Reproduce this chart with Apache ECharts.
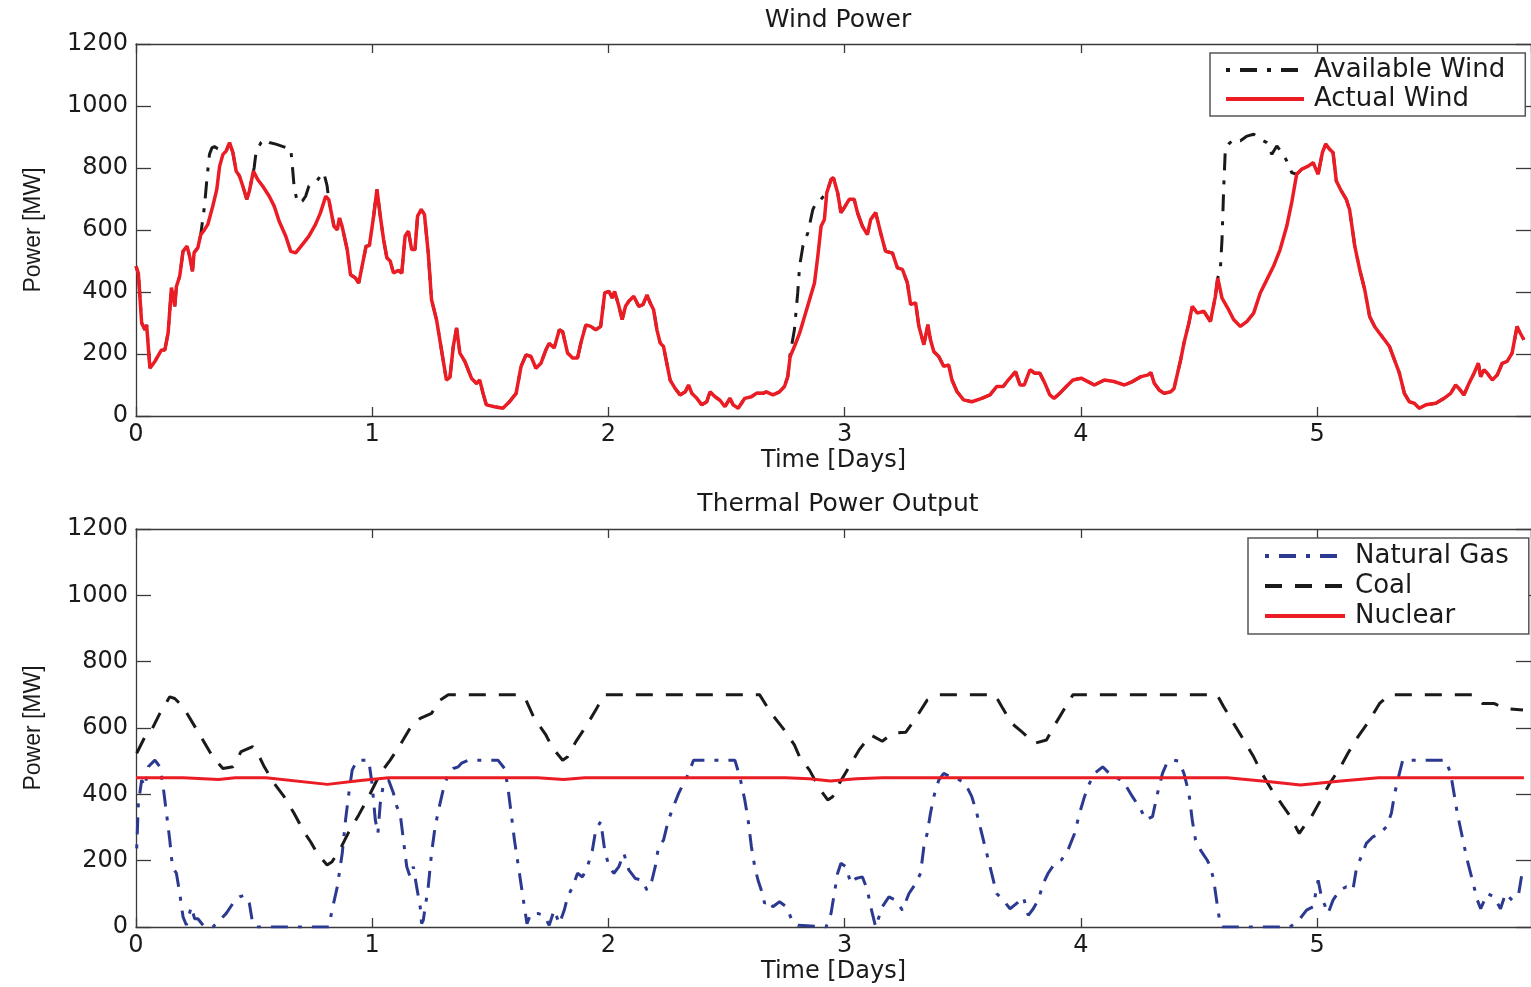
<!DOCTYPE html>
<html>
<head>
<meta charset="utf-8">
<script src="https://cdn.jsdelivr.net/npm/echarts@6/dist/echarts.min.js"></script>
<style>
html,body{margin:0;padding:0;background:#fff;}
#chart{width:1531px;height:987px;}
</style>
</head>
<body>
<div id="chart"></div>
<script>
// ---------- DATA ----------
const windTitle = 'Wind Power';
const thermalTitle = 'Thermal Power Output';
const xAxisName = 'Time [Days]';
const yAxisName = 'Power [MW]';
const xTicks = [0, 1, 2, 3, 4, 5];
const yTicks = [0, 200, 400, 600, 800, 1000, 1200];

// Actual wind output [day, MW]
const actualWind = [
[0,483],[0.010,460],[0.024,300],[0.038,278],[0.045,294],[0.059,154],[0.080,176],[0.108,213],[0.122,213],[0.136,268],
[0.150,414],[0.164,354],[0.171,418],[0.185,451],[0.199,531],[0.216,548],[0.227,515],[0.239,467],[0.246,527],[0.262,543],
[0.274,585],[0.290,601],[0.304,618],[0.325,677],[0.342,731],[0.354,806],[0.368,844],[0.382,855],[0.396,882],[0.410,850],
[0.424,790],[0.438,774],[0.452,742],[0.469,699],[0.480,726],[0.497,790],[0.515,763],[0.536,742],[0.564,709],[0.585,677],
[0.606,628],[0.634,580],[0.655,531],[0.676,526],[0.704,553],[0.732,580],[0.760,618],[0.781,656],[0.803,709],[0.816,698],
[0.838,612],[0.852,601],[0.861,639],[0.873,610],[0.894,537],[0.908,456],[0.929,445],[0.943,429],[0.957,483],[0.974,548],
[0.988,550],[1.006,645],[1.020,731],[1.034,645],[1.048,569],[1.062,510],[1.076,500],[1.090,461],[1.111,470],[1.125,461],
[1.139,580],[1.153,596],[1.167,537],[1.181,537],[1.192,645],[1.207,666],[1.221,650],[1.237,526],[1.251,375],[1.272,311],
[1.300,181],[1.314,116],[1.329,125],[1.343,224],[1.357,284],[1.371,203],[1.392,176],[1.420,122],[1.441,105],[1.455,116],
[1.469,73],[1.483,36],[1.518,30],[1.553,25],[1.581,46],[1.609,73],[1.630,160],[1.651,197],[1.672,192],[1.693,154],
[1.714,170],[1.735,213],[1.749,235],[1.770,219],[1.792,278],[1.806,272],[1.827,203],[1.848,187],[1.869,187],[1.883,235],
[1.904,294],[1.925,289],[1.946,278],[1.967,289],[1.984,397],[2.002,402],[2.016,381],[2.026,402],[2.044,354],[2.058,311],
[2.072,354],[2.086,370],[2.107,386],[2.128,354],[2.146,359],[2.163,391],[2.177,364],[2.191,343],[2.205,278],[2.219,235],
[2.233,224],[2.247,170],[2.261,116],[2.282,89],[2.303,68],[2.325,78],[2.339,100],[2.353,73],[2.374,57],[2.395,36],
[2.416,46],[2.430,78],[2.451,62],[2.472,51],[2.493,30],[2.514,57],[2.528,36],[2.549,25],[2.577,57],[2.605,62],
[2.626,73],[2.654,73],[2.668,78],[2.696,68],[2.724,78],[2.745,95],[2.759,127],[2.769,192],[2.787,224],[2.809,267],
[2.830,321],[2.851,375],[2.872,429],[2.886,515],[2.900,612],[2.914,634],[2.924,720],[2.942,763],[2.952,769],[2.970,720],
[2.984,656],[2.998,672],[3.019,699],[3.040,699],[3.054,656],[3.075,612],[3.096,585],[3.110,634],[3.131,656],[3.152,591],
[3.173,531],[3.202,526],[3.223,478],[3.244,473],[3.265,430],[3.279,360],[3.300,365],[3.314,289],[3.335,230],[3.352,294],
[3.363,246],[3.377,208],[3.398,192],[3.419,160],[3.440,165],[3.454,116],[3.475,79],[3.503,52],[3.538,46],[3.580,57],
[3.615,68],[3.643,95],[3.671,95],[3.692,116],[3.723,143],[3.742,100],[3.760,100],[3.784,149],[3.805,138],[3.826,138],
[3.847,106],[3.868,68],[3.886,57],[3.910,73],[3.938,95],[3.966,116],[4.001,122],[4.029,111],[4.057,100],[4.099,116],
[4.141,111],[4.184,100],[4.218,111],[4.254,127],[4.282,132],[4.296,140],[4.310,106],[4.331,84],[4.352,73],[4.380,78],
[4.394,89],[4.422,181],[4.436,235],[4.457,300],[4.471,354],[4.492,332],[4.520,338],[4.548,305],[4.569,386],[4.579,445],
[4.597,380],[4.625,343],[4.646,311],[4.675,289],[4.703,305],[4.731,332],[4.759,397],[4.787,440],[4.815,483],[4.843,537],
[4.871,612],[4.892,688],[4.913,780],[4.934,796],[4.962,806],[4.983,817],[5.004,780],[5.022,850],[5.036,877],[5.053,860],
[5.067,850],[5.081,758],[5.102,726],[5.123,699],[5.137,666],[5.159,548],[5.180,472],[5.201,408],[5.222,321],[5.243,289],
[5.264,267],[5.285,246],[5.306,224],[5.327,181],[5.348,138],[5.369,73],[5.390,46],[5.411,41],[5.432,25],[5.460,36],
[5.502,41],[5.537,57],[5.565,73],[5.586,100],[5.600,89],[5.621,68],[5.643,106],[5.664,138],[5.682,170],[5.692,127],
[5.706,149],[5.720,138],[5.741,116],[5.762,132],[5.783,170],[5.804,176],[5.825,203],[5.846,289],[5.860,267],[5.875,246]
];

// Available wind where it exceeds actual output (curtailed periods) [day, MW]
const availableCurtailed1 = [[0.277,585],[0.290,677],[0.300,763],[0.311,844],[0.322,866],[0.332,869],[0.346,862],[0.360,860],[0.382,855]];
const availableCurtailed2 = [[0.500,800],[0.508,850],[0.529,882],[0.543,893],[0.564,882],[0.592,877],[0.634,866],[0.655,862],[0.662,806],
  [0.669,742],[0.683,688],[0.704,693],[0.718,709],[0.732,742],[0.753,753],[0.767,760],[0.781,774],[0.795,785],[0.809,742],[0.816,698]];
const availableCurtailed3 = [[2.760,130],[2.769,200],[2.787,278],[2.801,397],[2.809,483],[2.823,548],[2.844,591],[2.865,666],[2.879,688],[2.888,690],[2.924,720]];
const availableCurtailed4 = [[4.579,445],[4.590,472],[4.597,569],[4.604,731],[4.611,860],[4.625,877],[4.646,893],[4.675,888],[4.703,903],
  [4.731,909],[4.759,893],[4.787,882],[4.808,844],[4.829,871],[4.857,844],[4.878,812],[4.892,785],[4.913,780]];

// Natural gas output [day, MW]
const naturalGas = [
[0.003,237],[0.010,373],[0.024,443],[0.038,423],[0.052,483],[0.080,503],[0.101,483],[0.115,423],[0.129,343],[0.143,262],
[0.154,182],[0.171,162],[0.185,102],[0.199,31],[0.213,6],[0.234,61],[0.248,25],[0.262,25],[0.290,0],[0.325,0],
[0.354,20],[0.382,41],[0.410,71],[0.438,91],[0.459,96],[0.480,71],[0.494,10],[0.508,0],[0.816,0],[0.830,51],
[0.852,121],[0.873,222],[0.887,323],[0.901,403],[0.915,473],[0.936,503],[0.985,503],[0.999,433],[1.013,323],[1.024,282],
[1.034,373],[1.048,433],[1.069,443],[1.090,403],[1.104,363],[1.118,343],[1.132,262],[1.146,182],[1.160,152],[1.174,182],
[1.188,121],[1.203,61],[1.209,10],[1.216,20],[1.237,121],[1.251,222],[1.266,302],[1.287,373],[1.300,413],[1.322,463],
[1.343,478],[1.364,483],[1.378,494],[1.406,503],[1.532,503],[1.560,478],[1.574,423],[1.588,343],[1.602,262],[1.623,162],
[1.644,61],[1.655,10],[1.672,41],[1.700,41],[1.728,35],[1.749,5],[1.770,51],[1.792,10],[1.813,51],[1.827,91],
[1.848,121],[1.869,162],[1.890,151],[1.911,182],[1.932,232],[1.946,292],[1.967,318],[1.984,232],[2.002,182],[2.023,162],
[2.044,182],[2.065,222],[2.086,172],[2.114,146],[2.142,141],[2.163,111],[2.184,141],[2.198,182],[2.212,242],[2.233,262],
[2.254,323],[2.275,363],[2.297,403],[2.318,433],[2.339,463],[2.360,503],[2.535,503],[2.556,453],[2.577,383],[2.591,323],
[2.605,242],[2.619,182],[2.633,141],[2.647,111],[2.661,71],[2.675,81],[2.696,61],[2.724,76],[2.753,61],[2.774,25],
[2.802,5],[2.921,0],[2.942,41],[2.956,101],[2.970,162],[2.984,192],[3.005,182],[3.026,131],[3.047,146],[3.075,151],
[3.096,111],[3.110,61],[3.131,0],[3.159,61],[3.187,91],[3.215,81],[3.244,51],[3.272,101],[3.300,131],[3.321,162],
[3.335,242],[3.349,282],[3.363,343],[3.377,393],[3.398,443],[3.419,463],[3.447,453],[3.475,448],[3.510,433],[3.538,393],
[3.559,343],[3.580,282],[3.601,222],[3.622,162],[3.643,101],[3.671,81],[3.700,55],[3.728,71],[3.756,91],[3.777,35],
[3.798,55],[3.819,81],[3.840,131],[3.861,162],[3.889,192],[3.917,202],[3.945,232],[3.973,282],[3.994,343],[4.015,393],
[4.036,433],[4.057,463],[4.092,483],[4.120,463],[4.148,453],[4.184,433],[4.218,393],[4.254,353],[4.275,323],[4.303,333],
[4.324,403],[4.345,463],[4.366,498],[4.394,503],[4.415,500],[4.436,463],[4.457,403],[4.471,323],[4.485,262],[4.506,232],
[4.534,202],[4.548,182],[4.562,141],[4.576,71],[4.590,5],[4.600,0],[4.885,0],[4.927,25],[4.955,51],[4.983,61],
[5.004,141],[5.018,91],[5.046,41],[5.067,81],[5.095,111],[5.123,121],[5.151,111],[5.165,172],[5.186,212],[5.208,252],
[5.236,272],[5.264,282],[5.293,302],[5.314,343],[5.328,403],[5.348,463],[5.362,503],[5.544,503],[5.565,463],[5.579,403],
[5.593,343],[5.614,272],[5.635,202],[5.657,141],[5.678,81],[5.692,55],[5.720,101],[5.748,91],[5.776,55],[5.797,101],
[5.825,81],[5.853,101],[5.867,162]
];

// Coal output [day, MW]
const coal = [
[0.003,524],[0.038,574],[0.066,594],[0.101,644],[0.143,694],[0.164,689],[0.199,664],[0.241,614],[0.283,564],[0.325,513],
[0.368,478],[0.410,483],[0.445,529],[0.494,544],[0.515,524],[0.543,483],[0.585,433],[0.627,393],[0.669,343],[0.711,287],
[0.739,257],[0.767,222],[0.809,187],[0.830,197],[0.866,237],[0.901,287],[0.943,338],[0.985,393],[1.034,463],[1.076,503],
[1.118,549],[1.160,599],[1.203,629],[1.251,644],[1.287,684],[1.322,700],[1.630,700],[1.651,684],[1.686,629],[1.735,579],
[1.764,539],[1.806,503],[1.827,513],[1.862,559],[1.904,604],[1.946,654],[1.981,700],[2.640,700],[2.689,644],[2.739,599],
[2.787,549],[2.809,513],[2.851,473],[2.893,418],[2.928,383],[2.949,393],[2.977,433],[3.019,483],[3.061,534],[3.110,579],
[3.159,560],[3.202,584],[3.258,587],[3.300,629],[3.349,684],[3.398,700],[3.636,700],[3.665,664],[3.707,614],[3.749,589],
[3.805,554],[3.854,564],[3.889,609],[3.931,659],[3.966,700],[4.576,700],[4.604,664],[4.646,614],[4.689,564],[4.731,513],
[4.766,463],[4.808,413],[4.857,363],[4.882,338],[4.924,282],[4.948,307],[4.976,333],[5.011,378],[5.053,433],[5.095,478],
[5.130,524],[5.173,574],[5.222,624],[5.264,674],[5.306,700],[5.657,700],[5.699,674],[5.748,674],[5.797,659],[5.871,654]
];

// Nuclear output [day, MW]
const nuclear = [
[0,450],[0.20,450],[0.35,445],[0.42,450],[0.55,450],[0.81,430],[0.95,442],[1.07,450],[1.70,450],[1.81,445],
[1.90,450],[2.75,450],[2.85,447],[2.94,440],[3.05,447],[3.16,450],[4.62,450],[4.80,438],[4.93,428],[5.10,440],
[5.26,450],[5.875,450]
];

// ---------- BUILD ----------
const curtailedSegs = [availableCurtailed1, availableCurtailed2, availableCurtailed3, availableCurtailed4];
let availableWind = actualWind.filter(p => !curtailedSegs.some(s => p[0] >= s[0][0] && p[0] <= s[s.length-1][0]));
curtailedSegs.forEach(s => { availableWind = availableWind.concat(s); });
availableWind.sort((a, b) => a[0] - b[0]);

const FONT = 'DejaVu Sans';
const TXT = '#1a1a1a';
const AX = '#3a3a3a';
const XMAX = 5.905;

function xAx(grid, pos, withLabels) {
  return {
    type: 'value', gridIndex: grid, position: pos, min: 0, max: XMAX, interval: 1,
    axisLine: {show: true, onZero: false, lineStyle: {color: AX, width: 1.3}},
    axisTick: {show: true, inside: true, length: 9, lineStyle: {color: AX, width: 1.3}},
    axisLabel: {show: withLabels, showMaxLabel: false, margin: 7, color: TXT, fontFamily: FONT, fontSize: 24,
      formatter: v => (xTicks.indexOf(v) >= 0 ? String(v) : '')},
    splitLine: {show: false},
    name: withLabels ? xAxisName : '', nameLocation: 'middle', nameGap: 33,
    nameTextStyle: {color: TXT, fontFamily: FONT, fontSize: 24}
  };
}
function yAx(grid, pos, withLabels) {
  return {
    type: 'value', gridIndex: grid, position: pos, min: yTicks[0], max: yTicks[yTicks.length-1], interval: 200,
    axisLine: {show: true, onZero: false, lineStyle: {color: AX, width: 1.3}},
    axisTick: {show: true, inside: true, length: 15, lineStyle: {color: AX, width: 1.3}},
    axisLabel: {show: withLabels, margin: 8, color: TXT, fontFamily: FONT, fontSize: 24,
      formatter: v => String(v)},
    splitLine: {show: false},
    name: withLabels ? yAxisName : '', nameLocation: 'middle', nameGap: 91,
    nameTextStyle: {color: TXT, fontFamily: 'Liberation Sans', fontSize: 23}
  };
}

const RED = '#ec1c24';
const BLACK = '#1a1a1a';
const BLUE = '#2b3990';
const dashDot = [4, 10, 17, 10];

const legendCommon = {
  orient: 'vertical', itemHeight: 14, borderColor: '#555', borderWidth: 1.5, backgroundColor: '#fff',
  itemStyle: {opacity: 0},
  lineStyle: {width: 4},
  textStyle: {fontFamily: FONT, fontSize: 26, color: TXT, lineHeight: 24, padding: [0, 0, 0, 5]}
};

const option = {
  animation: false,
  backgroundColor: '#ffffff',
  title: [
    {text: windTitle, left: 838, top: 8, textAlign: 'center', padding: 0,
     textStyle: {fontFamily: FONT, fontSize: 25, fontWeight: 'normal', color: TXT}},
    {text: thermalTitle, left: 838, top: 492, textAlign: 'center', padding: 0,
     textStyle: {fontFamily: FONT, fontSize: 25, fontWeight: 'normal', color: TXT}}
  ],
  legend: [
    Object.assign({}, legendCommon, {data: ['Available Wind', 'Actual Wind'], left: 1210, top: 53,
      itemWidth: 78, itemGap: 3, padding: [4, 20, 4, 14]}),
    Object.assign({}, legendCommon, {data: ['Natural Gas', 'Coal', 'Nuclear'], left: 1248, top: 538,
      itemWidth: 80, itemGap: 4, padding: [5, 20, 5, 15]})
  ],
  grid: [
    {left: 136, top: 44, width: 1403, height: 372},
    {left: 136, top: 529, width: 1403, height: 398}
  ],
  xAxis: [xAx(0, 'bottom', true), xAx(0, 'top', false), xAx(1, 'bottom', true), xAx(1, 'top', false)],
  yAxis: [yAx(0, 'left', true), yAx(0, 'right', false), yAx(1, 'left', true), yAx(1, 'right', false)],
  series: [
    {name: 'Available Wind', type: 'line', xAxisIndex: 0, yAxisIndex: 0, data: availableWind, symbol: 'none',
     lineStyle: {color: BLACK, width: 3, type: dashDot}, itemStyle: {color: BLACK}},
    {name: 'Actual Wind', type: 'line', xAxisIndex: 0, yAxisIndex: 0, data: actualWind, symbol: 'none',
     lineStyle: {color: RED, width: 3.5}, itemStyle: {color: RED}},
    {name: 'Natural Gas', type: 'line', xAxisIndex: 2, yAxisIndex: 2, data: naturalGas, symbol: 'none',
     lineStyle: {color: BLUE, width: 3, type: dashDot}, itemStyle: {color: BLUE}},
    {name: 'Coal', type: 'line', xAxisIndex: 2, yAxisIndex: 2, data: coal, symbol: 'none',
     lineStyle: {color: BLACK, width: 3, type: [17, 13]}, itemStyle: {color: BLACK}},
    {name: 'Nuclear', type: 'line', xAxisIndex: 2, yAxisIndex: 2, data: nuclear, symbol: 'none',
     lineStyle: {color: RED, width: 3}, itemStyle: {color: RED}}
  ]
};

const chart = echarts.init(document.getElementById('chart'), null, {renderer: 'canvas'});
chart.setOption(option);
</script>
</body>
</html>
